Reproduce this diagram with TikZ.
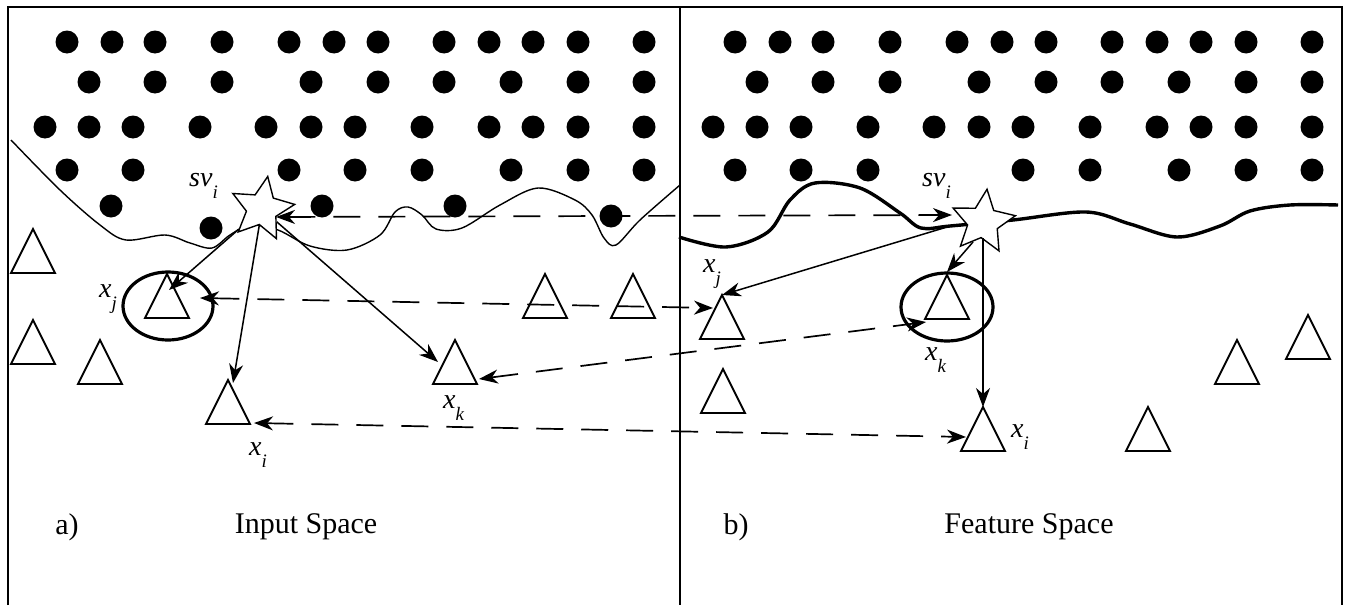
\documentclass[tikz,border=0pt]{standalone}
\usepackage{fontspec}
\setmainfont{Liberation Serif}
\usetikzlibrary{shapes.geometric,arrows.meta}
\newcommand{\lab}[2]{{\fontsize{28}{32}\selectfont\itshape #1\raisebox{-0.45em}{\fontsize{19}{22}\selectfont #2}}}
\begin{document}
\begin{tikzpicture}[x=1pt,y=-1pt,
  tri/.style={draw, isosceles triangle, isosceles triangle stretches, shape border rotate=90,
    minimum width=44pt, minimum height=44pt, inner sep=0pt, outer sep=0pt, line width=1.9pt, anchor=apex},
  starnode/.style={draw, fill=white, star, star points=5, star point ratio=2.1, minimum size=66pt,
    inner sep=0pt, line width=1.4pt},
  ring/.style={draw, ellipse, line width=3.2pt, inner sep=0pt, minimum width=90pt, minimum height=68pt},
  arr/.style={line width=1.5pt, -{Stealth[length=19pt,width=14pt,inset=6pt]}},
  dsh/.style={line width=1.7pt, dash pattern=on 27pt off 18pt, {Stealth[length=19pt,width=14pt,inset=6pt]}-{Stealth[length=19pt,width=14pt,inset=6pt]}},
  lbl/.style={inner sep=0pt},
  captext/.style={inner sep=0pt, font=\fontsize{30}{34}\selectfont}
]
\useasboundingbox (0,0) rectangle (1346,605);
\fill[white] (0,0) rectangle (1346,605);
% frame
\draw[line width=1.5pt] (8,605) -- (8,7) -- (1342,7) -- (1342,605);
\draw[line width=1.3pt] (680,7) -- (680,605);

% dots
\foreach \x in {67,112,155,222,289,334,378,444,489,533,578,644} {\fill (\x,42) circle (11.5); \fill (\x+668,42) circle (11.5);}
\foreach \x in {89,155,222,311,378,444,511,578,644} {\fill (\x,82) circle (11.5); \fill (\x+668,82) circle (11.5);}
\foreach \x in {45,89,133,200,266,311,355,422,489,533,578,644} {\fill (\x,127) circle (11.5); \fill (\x+668,127) circle (11.5);}
\foreach \x in {67,133,289,355,422,511,578,644} {\fill (\x,170) circle (11.5);}
\foreach \x in {735,801,868,1023,1090,1179,1246,1312} {\fill (\x,170) circle (11.5);}
\foreach \x/\y in {111/206,322/206,455/206,211/228,611/216} {\fill (\x,\y) circle (11.5);}

% boundaries
\draw[line width=1.4pt] plot[smooth, tension=0.55] coordinates {
  (11,140) (60,190) (100,225) (126,240) (165,235) (190,243) (212,248) (230,235) (250,225)
  (278,230) (310,246) (347,250) (380,235) (395,212) (408,207) (422,215) (436,229) (462,228)
  (500,205) (538,188) (575,200) (592,215) (604,238) (616,245) (640,220) (680,185)};
\draw[line width=3.4pt] plot[smooth, tension=0.55] coordinates {
  (679,237) (726,247) (768,232) (790,200) (815,183) (860,188) (900,213) (921,228) (950,226)
  (1013,220) (1086,212) (1130,224) (1177,237) (1220,226) (1250,211) (1290,205) (1338,205)};

% triangles left
\node[tri] (tL1) at (33,229) {};
\node[tri] (tL2) at (33,320) {};
\node[tri] (tL3) at (100,340) {};
\node[tri] (xjL) at (167,274) {};
\node[tri] (xiL) at (228,380) {};
\node[tri] (xkL) at (455,340) {};
\node[tri] (tL4) at (545,274) {};
\node[tri] (tL5) at (633,274) {};
\node[ring] (cL) at (168,306) {};

% triangles right
\node[tri] (xjR) at (722,295) {};
\node[tri] (tR1) at (723,369) {};
\node[tri] (xkR) at (947,275) {};
\node[tri] (xiR) at (983,407) {};
\node[tri] (tR2) at (1148,407) {};
\node[tri] (tR3) at (1237,340) {};
\node[tri] (tR4) at (1308,315) {};
\node[ring, minimum width=92pt] (cR) at (947,307) {};

% stars
\node[starnode, rotate=-10] (starL) at (262,209) {};
\node[starnode, rotate=-7] (starR) at (983,222) {};

% solid arrows
\coordinate (jL) at (169,290);
\coordinate (iL) at (233,383);
\coordinate (kL) at (438,362);
\draw[arr] (starL) -- (jL);
\draw[arr] (starL) -- (iL);
\draw[arr] (starL) -- (kL);
\coordinate (sR1) at (947,227);
\draw[arr] (sR1) -- (xjR.apex);
\coordinate (sR2) at (973,242);
\coordinate (kR) at (947,272);
\draw[arr] (sR2) -- (kR);
\coordinate (sR3) at (983,238);
\draw[arr] (sR3) -- (xiR.apex);

% dashed correspondences
\coordinate (dsL) at (276,217); \coordinate (dsR) at (952,215);
\draw[dsh] (dsL) -- (dsR);
\coordinate (djL) at (200,298); \coordinate (djR) at (713,308);
\draw[dsh] (djL) -- (djR);
\coordinate (dkL) at (479,379); \coordinate (dkR) at (926,322);
\draw[dsh] (dkL) -- (dkR);
\coordinate (diL) at (254,423); \coordinate (diR) at (966,437);
\draw[dsh] (diL) -- (diR);

% labels
\node[lbl, anchor=base west] (svL) at (189,186) {\lab{sv}{i}};
\node[lbl, anchor=base west] (svR) at (922,186) {\lab{sv}{i}};
\node[lbl, anchor=base west] (lxjL) at (99,297) {\lab{x}{j}};
\node[lbl, anchor=base west] (lxiL) at (249,455) {\lab{x}{i}};
\node[lbl, anchor=base west] (lxkL) at (443,408) {\lab{x}{k}};
\node[lbl, anchor=base west] (lxjR) at (703,272) {\lab{x}{j}};
\node[lbl, anchor=base west] (lxkR) at (925,360) {\lab{x}{k}};
\node[lbl, anchor=base west] (lxiR) at (1011,437) {\lab{x}{i}};

\node[captext] (a) at (67,527) {a)};
\node[captext] (ia) at (306,527) {Input Space};
\node[captext] (b) at (736,527) {b)};
\node[captext] (fb) at (1029,527) {Feature Space};
\end{tikzpicture}
\end{document}
